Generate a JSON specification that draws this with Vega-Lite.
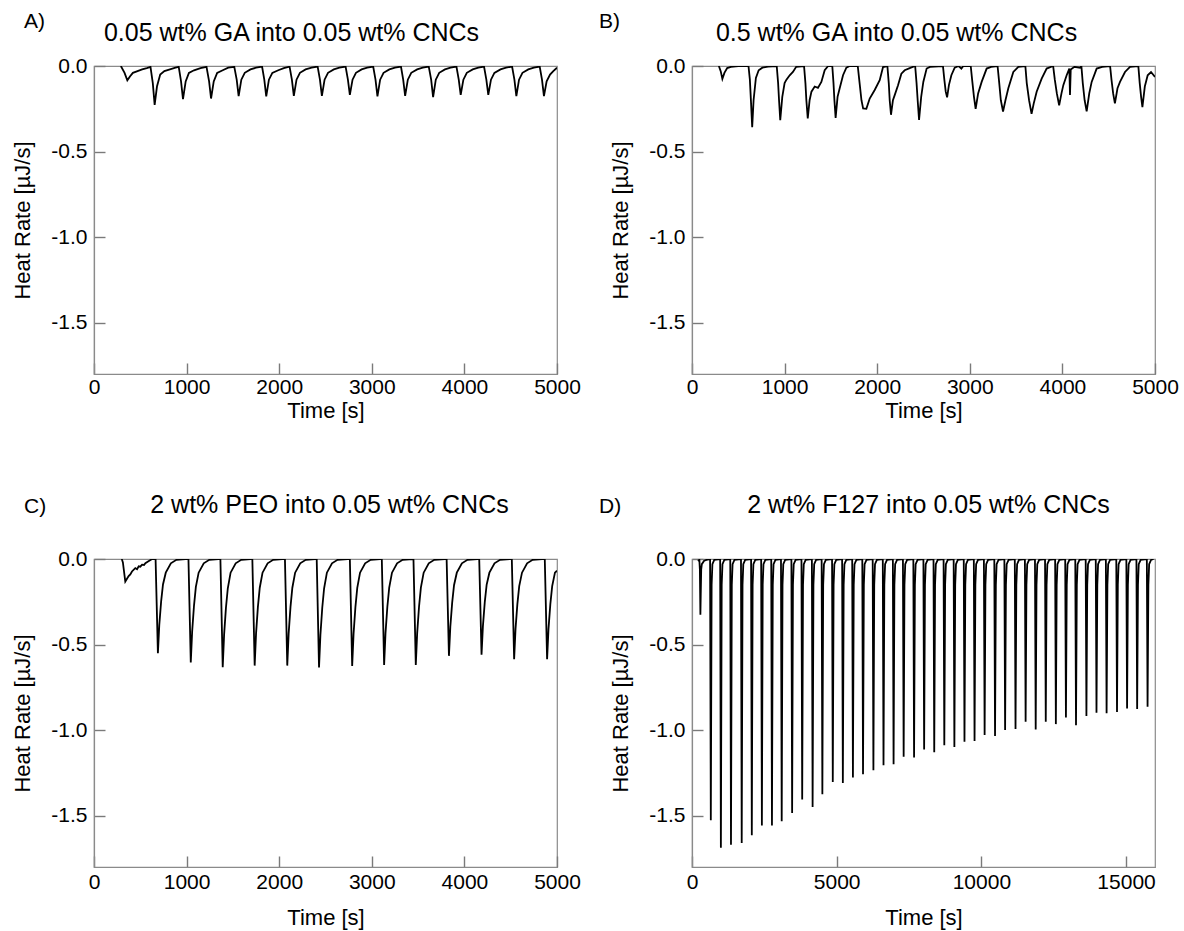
{
  "$schema": "https://vega.github.io/schema/vega-lite/v6.json",
  "background": "white",
  "padding": {"left": 11, "top": 10, "right": 5, "bottom": 5},
  "config": {
    "font": "Liberation Sans",
    "view": {"stroke": "#8a8a8a", "strokeWidth": 1.2},
    "axis": {"grid": true, "gridColor": "#7a7a7a", "gridWidth": 1.4, "gridOpacity": 1, "ticks": false, "tickSize": 0, "domainColor": "#8a8a8a", "domainWidth": 1.2, "labelFlush": false, "labelFont": "Liberation Sans", "labelFontSize": 21, "labelColor": "black", "titleFont": "Liberation Sans", "titleFontSize": 22, "titleFontWeight": "normal", "titleColor": "black"},
    "axisX": {"gridDash": [0, 297, 11, 10000]},
    "axisY": {"gridDash": [11, 10000], "labelPadding": 7, "titlePadding": 16},
    "title": {"font": "Liberation Sans", "fontSize": 21, "fontWeight": "normal", "color": "black"}
  },
  "datasets": {
    "A": [
      {"t":290,"v":0},{"t":330,"v":-0.04},{"t":360,"v":-0.084},{"t":390,"v":-0.06},{"t":420,"v":-0.04},{"t":470,"v":-0.03},{"t":520,"v":-0.02},{"t":570,"v":-0.012},{"t":610,"v":-0.005},
      {"t":635,"v":-0.1},{"t":655,"v":-0.227},{"t":680,"v":-0.12},{"t":715,"v":-0.05},{"t":760,"v":-0.03},{"t":820,"v":-0.02},{"t":880,"v":-0.01},{"t":915,"v":-0.005},
      {"t":940,"v":-0.09},{"t":961,"v":-0.194},{"t":990,"v":-0.09},{"t":1025,"v":-0.04},{"t":1080,"v":-0.025},{"t":1150,"v":-0.012},{"t":1215,"v":-0.005},
      {"t":1243,"v":-0.09},{"t":1264,"v":-0.19},{"t":1293,"v":-0.09},{"t":1330,"v":-0.04},{"t":1390,"v":-0.025},{"t":1450,"v":-0.01},{"t":1515,"v":-0.005},
      {"t":1541,"v":-0.08},{"t":1562,"v":-0.176},{"t":1591,"v":-0.08},{"t":1628,"v":-0.04},{"t":1690,"v":-0.02},{"t":1750,"v":-0.01},{"t":1815,"v":-0.003},
      {"t":1839,"v":-0.08},{"t":1860,"v":-0.178},{"t":1889,"v":-0.08},{"t":1926,"v":-0.04},{"t":1990,"v":-0.025},{"t":2050,"v":-0.012},{"t":2112,"v":-0.004},
      {"t":2137,"v":-0.08},{"t":2158,"v":-0.175},{"t":2187,"v":-0.08},{"t":2224,"v":-0.04},{"t":2285,"v":-0.02},{"t":2350,"v":-0.01},{"t":2415,"v":-0.003},
      {"t":2440,"v":-0.08},{"t":2461,"v":-0.175},{"t":2490,"v":-0.08},{"t":2527,"v":-0.04},{"t":2590,"v":-0.02},{"t":2650,"v":-0.01},{"t":2717,"v":-0.003},
      {"t":2742,"v":-0.08},{"t":2763,"v":-0.169},{"t":2792,"v":-0.08},{"t":2829,"v":-0.04},{"t":2890,"v":-0.02},{"t":2950,"v":-0.01},{"t":3015,"v":-0.003},
      {"t":3040,"v":-0.08},{"t":3061,"v":-0.178},{"t":3090,"v":-0.08},{"t":3127,"v":-0.04},{"t":3190,"v":-0.02},{"t":3250,"v":-0.01},{"t":3315,"v":-0.003},
      {"t":3339,"v":-0.08},{"t":3360,"v":-0.175},{"t":3389,"v":-0.08},{"t":3426,"v":-0.04},{"t":3490,"v":-0.02},{"t":3550,"v":-0.01},{"t":3615,"v":-0.003},
      {"t":3641,"v":-0.08},{"t":3662,"v":-0.182},{"t":3691,"v":-0.08},{"t":3728,"v":-0.04},{"t":3790,"v":-0.02},{"t":3850,"v":-0.01},{"t":3914,"v":-0.003},
      {"t":3939,"v":-0.08},{"t":3960,"v":-0.169},{"t":3989,"v":-0.08},{"t":4026,"v":-0.04},{"t":4090,"v":-0.02},{"t":4150,"v":-0.01},{"t":4212,"v":-0.003},
      {"t":4237,"v":-0.08},{"t":4258,"v":-0.169},{"t":4287,"v":-0.08},{"t":4324,"v":-0.04},{"t":4390,"v":-0.02},{"t":4450,"v":-0.01},{"t":4515,"v":-0.003},
      {"t":4540,"v":-0.08},{"t":4561,"v":-0.176},{"t":4590,"v":-0.08},{"t":4627,"v":-0.04},{"t":4690,"v":-0.02},{"t":4750,"v":-0.01},{"t":4813,"v":-0.003},
      {"t":4838,"v":-0.08},{"t":4859,"v":-0.176},{"t":4888,"v":-0.09},{"t":4925,"v":-0.05},{"t":4960,"v":-0.03},{"t":5000,"v":-0.01}
    ],
    "B": [
      {"t":290,"v":0},{"t":310,"v":-0.03},{"t":328,"v":-0.075},{"t":350,"v":-0.04},{"t":380,"v":-0.012},{"t":420,"v":-0.005},{"t":500,"v":0},{"t":610,"v":0},
      {"t":625,"v":-0.08},{"t":638,"v":-0.22},{"t":650,"v":-0.357},{"t":665,"v":-0.2},{"t":690,"v":-0.07},{"t":720,"v":-0.025},{"t":760,"v":-0.01},{"t":820,"v":-0.004},{"t":915,"v":0},
      {"t":930,"v":-0.1},{"t":940,"v":-0.2},{"t":953,"v":-0.317},{"t":975,"v":-0.18},{"t":1000,"v":-0.1},{"t":1020,"v":-0.08},{"t":1055,"v":-0.054},{"t":1090,"v":-0.035},{"t":1125,"v":-0.005},{"t":1210,"v":0},
      {"t":1225,"v":-0.1},{"t":1235,"v":-0.2},{"t":1250,"v":-0.307},{"t":1270,"v":-0.2},{"t":1290,"v":-0.15},{"t":1325,"v":-0.12},{"t":1360,"v":-0.128},{"t":1397,"v":-0.093},{"t":1433,"v":-0.025},{"t":1470,"v":0},{"t":1515,"v":0},
      {"t":1528,"v":-0.1},{"t":1538,"v":-0.2},{"t":1551,"v":-0.303},{"t":1572,"v":-0.18},{"t":1595,"v":-0.13},{"t":1631,"v":-0.054},{"t":1667,"v":-0.01},{"t":1703,"v":0},{"t":1790,"v":0},
      {"t":1810,"v":-0.1},{"t":1830,"v":-0.2},{"t":1848,"v":-0.248},{"t":1883,"v":-0.25},{"t":1919,"v":-0.19},{"t":1973,"v":-0.14},{"t":2027,"v":-0.083},{"t":2063,"v":-0.006},{"t":2110,"v":0},
      {"t":2125,"v":-0.1},{"t":2135,"v":-0.2},{"t":2149,"v":-0.285},{"t":2170,"v":-0.2},{"t":2189,"v":-0.17},{"t":2225,"v":-0.112},{"t":2261,"v":-0.045},{"t":2297,"v":-0.025},{"t":2351,"v":-0.012},{"t":2410,"v":0},
      {"t":2425,"v":-0.1},{"t":2437,"v":-0.2},{"t":2452,"v":-0.315},{"t":2475,"v":-0.18},{"t":2498,"v":-0.093},{"t":2534,"v":-0.015},{"t":2570,"v":-0.005},{"t":2710,"v":0},
      {"t":2725,"v":-0.08},{"t":2740,"v":-0.15},{"t":2755,"v":-0.183},{"t":2775,"v":-0.11},{"t":2801,"v":-0.054},{"t":2837,"v":-0.01},{"t":2880,"v":0},{"t":2909,"v":-0.015},{"t":2930,"v":0},{"t":3010,"v":0},
      {"t":3025,"v":-0.08},{"t":3045,"v":-0.18},{"t":3063,"v":-0.25},{"t":3090,"v":-0.16},{"t":3128,"v":-0.093},{"t":3182,"v":-0.015},{"t":3230,"v":-0.005},{"t":3300,"v":0},
      {"t":3318,"v":-0.1},{"t":3335,"v":-0.2},{"t":3359,"v":-0.266},{"t":3385,"v":-0.2},{"t":3416,"v":-0.13},{"t":3470,"v":-0.035},{"t":3524,"v":-0.005},{"t":3600,"v":0},
      {"t":3615,"v":-0.1},{"t":3640,"v":-0.2},{"t":3667,"v":-0.28},{"t":3690,"v":-0.22},{"t":3722,"v":-0.15},{"t":3776,"v":-0.074},{"t":3830,"v":-0.015},{"t":3900,"v":0},
      {"t":3918,"v":-0.08},{"t":3940,"v":-0.16},{"t":3965,"v":-0.23},{"t":3990,"v":-0.16},{"t":4010,"v":-0.112},{"t":4046,"v":-0.054},{"t":4075,"v":-0.015},{"t":4082,"v":-0.17},{"t":4090,"v":-0.02},{"t":4130,"v":-0.005},{"t":4190,"v":-0.01},{"t":4205,"v":0},
      {"t":4220,"v":-0.1},{"t":4240,"v":-0.2},{"t":4262,"v":-0.265},{"t":4290,"v":-0.16},{"t":4316,"v":-0.093},{"t":4370,"v":-0.015},{"t":4430,"v":-0.005},{"t":4515,"v":0},
      {"t":4530,"v":-0.08},{"t":4548,"v":-0.16},{"t":4567,"v":-0.218},{"t":4595,"v":-0.13},{"t":4622,"v":-0.093},{"t":4676,"v":-0.035},{"t":4730,"v":-0.005},{"t":4820,"v":0},
      {"t":4835,"v":-0.1},{"t":4850,"v":-0.18},{"t":4864,"v":-0.24},{"t":4890,"v":-0.12},{"t":4921,"v":-0.054},{"t":4957,"v":-0.035},{"t":5000,"v":-0.064}
    ],
    "C": [
      {"t":300,"v":0},{"t":312,"v":-0.02},{"t":338,"v":-0.132},{"t":374,"v":-0.1},{"t":392,"v":-0.09},{"t":410,"v":-0.073},{"t":446,"v":-0.053},{"t":465,"v":-0.06},{"t":483,"v":-0.043},{"t":500,"v":-0.045},{"t":519,"v":-0.033},{"t":540,"v":-0.035},{"t":555,"v":-0.024},{"t":592,"v":-0.012},{"t":628,"v":0},
      {"t":665,"v":0},{"t":690,"v":-0.551},{"t":705,"v":-0.386},{"t":725,"v":-0.248},{"t":745,"v":-0.149},{"t":775,"v":-0.08},{"t":830,"v":-0.025},{"t":890,"v":-0.005},{"t":990,"v":0},
      {"t":1020,"v":0},{"t":1045,"v":-0.605},{"t":1060,"v":-0.424},{"t":1080,"v":-0.272},{"t":1100,"v":-0.163},{"t":1130,"v":-0.08},{"t":1185,"v":-0.025},{"t":1245,"v":-0.005},{"t":1345,"v":0},
      {"t":1365,"v":0},{"t":1390,"v":-0.632},{"t":1405,"v":-0.442},{"t":1425,"v":-0.284},{"t":1445,"v":-0.171},{"t":1475,"v":-0.08},{"t":1530,"v":-0.025},{"t":1590,"v":-0.005},{"t":1690,"v":0},
      {"t":1710,"v":0},{"t":1735,"v":-0.623},{"t":1750,"v":-0.436},{"t":1770,"v":-0.28},{"t":1790,"v":-0.168},{"t":1820,"v":-0.08},{"t":1875,"v":-0.025},{"t":1935,"v":-0.005},{"t":2035,"v":0},
      {"t":2062,"v":0},{"t":2087,"v":-0.623},{"t":2102,"v":-0.436},{"t":2122,"v":-0.28},{"t":2142,"v":-0.168},{"t":2172,"v":-0.08},{"t":2227,"v":-0.025},{"t":2287,"v":-0.005},{"t":2390,"v":0},
      {"t":2405,"v":0},{"t":2430,"v":-0.634},{"t":2445,"v":-0.444},{"t":2465,"v":-0.285},{"t":2485,"v":-0.171},{"t":2515,"v":-0.08},{"t":2570,"v":-0.025},{"t":2630,"v":-0.005},{"t":2740,"v":0},
      {"t":2763,"v":0},{"t":2788,"v":-0.625},{"t":2803,"v":-0.438},{"t":2823,"v":-0.281},{"t":2843,"v":-0.169},{"t":2873,"v":-0.08},{"t":2928,"v":-0.025},{"t":2988,"v":-0.005},{"t":3090,"v":0},
      {"t":3108,"v":0},{"t":3133,"v":-0.619},{"t":3148,"v":-0.433},{"t":3168,"v":-0.279},{"t":3188,"v":-0.167},{"t":3218,"v":-0.08},{"t":3273,"v":-0.025},{"t":3333,"v":-0.005},{"t":3440,"v":0},
      {"t":3450,"v":0},{"t":3475,"v":-0.619},{"t":3490,"v":-0.433},{"t":3510,"v":-0.279},{"t":3530,"v":-0.167},{"t":3560,"v":-0.08},{"t":3615,"v":-0.025},{"t":3675,"v":-0.005},{"t":3790,"v":0},
      {"t":3808,"v":0},{"t":3833,"v":-0.566},{"t":3848,"v":-0.396},{"t":3868,"v":-0.255},{"t":3888,"v":-0.153},{"t":3918,"v":-0.08},{"t":3973,"v":-0.025},{"t":4033,"v":-0.005},{"t":4140,"v":0},
      {"t":4160,"v":0},{"t":4185,"v":-0.56},{"t":4200,"v":-0.392},{"t":4220,"v":-0.252},{"t":4240,"v":-0.151},{"t":4270,"v":-0.08},{"t":4325,"v":-0.025},{"t":4385,"v":-0.005},{"t":4490,"v":0},
      {"t":4512,"v":0},{"t":4537,"v":-0.586},{"t":4552,"v":-0.41},{"t":4572,"v":-0.264},{"t":4592,"v":-0.158},{"t":4622,"v":-0.08},{"t":4677,"v":-0.025},{"t":4737,"v":-0.005},{"t":4840,"v":0},
      {"t":4868,"v":0},{"t":4893,"v":-0.586},{"t":4908,"v":-0.41},{"t":4928,"v":-0.264},{"t":4948,"v":-0.158},{"t":4978,"v":-0.08},{"t":5000,"v":-0.068}
    ],
    "D": [
      {"t":200,"v":-0.01},{"t":255,"v":-0.005},{"t":272,"v":-0.06},{"t":290,"v":-0.326},{"t":303,"v":-0.2},{"t":318,"v":-0.06},{"t":340,"v":-0.03},{"t":420,"v":-0.01},{"t":500,"v":-0.005},
      {"t":625,"v":0},{"t":650,"v":-1.527},{"t":678,"v":-0.15},{"t":705,"v":-0.03},{"t":770,"v":-0.005},
      {"t":973,"v":0},{"t":998,"v":-1.688},{"t":1026,"v":-0.15},{"t":1053,"v":-0.03},{"t":1118,"v":-0.005},
      {"t":1322,"v":0},{"t":1347,"v":-1.67},{"t":1375,"v":-0.15},{"t":1402,"v":-0.03},{"t":1467,"v":-0.005},
      {"t":1693,"v":0},{"t":1718,"v":-1.66},{"t":1746,"v":-0.15},{"t":1773,"v":-0.03},{"t":1838,"v":-0.005},
      {"t":2042,"v":0},{"t":2067,"v":-1.615},{"t":2095,"v":-0.15},{"t":2122,"v":-0.03},{"t":2187,"v":-0.005},
      {"t":2390,"v":0},{"t":2415,"v":-1.557},{"t":2443,"v":-0.15},{"t":2470,"v":-0.03},{"t":2535,"v":-0.005},
      {"t":2738,"v":0},{"t":2763,"v":-1.557},{"t":2791,"v":-0.15},{"t":2818,"v":-0.03},{"t":2883,"v":-0.005},
      {"t":3075,"v":0},{"t":3100,"v":-1.533},{"t":3128,"v":-0.15},{"t":3155,"v":-0.03},{"t":3220,"v":-0.005},
      {"t":3435,"v":0},{"t":3460,"v":-1.484},{"t":3488,"v":-0.15},{"t":3515,"v":-0.03},{"t":3580,"v":-0.005},
      {"t":3783,"v":0},{"t":3808,"v":-1.406},{"t":3836,"v":-0.15},{"t":3863,"v":-0.03},{"t":3928,"v":-0.005},
      {"t":4143,"v":0},{"t":4168,"v":-1.449},{"t":4196,"v":-0.15},{"t":4223,"v":-0.03},{"t":4288,"v":-0.005},
      {"t":4480,"v":0},{"t":4505,"v":-1.375},{"t":4533,"v":-0.15},{"t":4560,"v":-0.03},{"t":4625,"v":-0.005},
      {"t":4840,"v":0},{"t":4865,"v":-1.303},{"t":4893,"v":-0.15},{"t":4920,"v":-0.03},{"t":4985,"v":-0.005},
      {"t":5188,"v":0},{"t":5213,"v":-1.309},{"t":5241,"v":-0.15},{"t":5268,"v":-0.03},{"t":5333,"v":-0.005},
      {"t":5536,"v":0},{"t":5561,"v":-1.277},{"t":5589,"v":-0.15},{"t":5616,"v":-0.03},{"t":5681,"v":-0.005},
      {"t":5885,"v":0},{"t":5910,"v":-1.258},{"t":5938,"v":-0.15},{"t":5965,"v":-0.03},{"t":6030,"v":-0.005},
      {"t":6244,"v":0},{"t":6269,"v":-1.234},{"t":6297,"v":-0.15},{"t":6324,"v":-0.03},{"t":6389,"v":-0.005},
      {"t":6593,"v":0},{"t":6618,"v":-1.205},{"t":6646,"v":-0.15},{"t":6673,"v":-0.03},{"t":6738,"v":-0.005},
      {"t":6941,"v":0},{"t":6966,"v":-1.199},{"t":6994,"v":-0.15},{"t":7021,"v":-0.03},{"t":7086,"v":-0.005},
      {"t":7289,"v":0},{"t":7314,"v":-1.156},{"t":7342,"v":-0.15},{"t":7369,"v":-0.03},{"t":7434,"v":-0.005},
      {"t":7649,"v":0},{"t":7674,"v":-1.16},{"t":7702,"v":-0.15},{"t":7729,"v":-0.03},{"t":7794,"v":-0.005},
      {"t":7997,"v":0},{"t":8022,"v":-1.113},{"t":8050,"v":-0.15},{"t":8077,"v":-0.03},{"t":8142,"v":-0.005},
      {"t":8346,"v":0},{"t":8371,"v":-1.129},{"t":8399,"v":-0.15},{"t":8426,"v":-0.03},{"t":8491,"v":-0.005},
      {"t":8694,"v":0},{"t":8719,"v":-1.088},{"t":8747,"v":-0.15},{"t":8774,"v":-0.03},{"t":8839,"v":-0.005},
      {"t":9042,"v":0},{"t":9067,"v":-1.098},{"t":9095,"v":-0.15},{"t":9122,"v":-0.03},{"t":9187,"v":-0.005},
      {"t":9391,"v":0},{"t":9416,"v":-1.068},{"t":9444,"v":-0.15},{"t":9471,"v":-0.03},{"t":9536,"v":-0.005},
      {"t":9739,"v":0},{"t":9764,"v":-1.063},{"t":9792,"v":-0.15},{"t":9819,"v":-0.03},{"t":9884,"v":-0.005},
      {"t":10087,"v":0},{"t":10112,"v":-1.029},{"t":10140,"v":-0.15},{"t":10167,"v":-0.03},{"t":10232,"v":-0.005},
      {"t":10447,"v":0},{"t":10472,"v":-1.035},{"t":10500,"v":-0.15},{"t":10527,"v":-0.03},{"t":10592,"v":-0.005},
      {"t":10795,"v":0},{"t":10820,"v":-1.0},{"t":10848,"v":-0.15},{"t":10875,"v":-0.03},{"t":10940,"v":-0.005},
      {"t":11155,"v":0},{"t":11180,"v":-0.994},{"t":11208,"v":-0.15},{"t":11235,"v":-0.03},{"t":11300,"v":-0.005},
      {"t":11504,"v":0},{"t":11529,"v":-0.951},{"t":11557,"v":-0.15},{"t":11584,"v":-0.03},{"t":11649,"v":-0.005},
      {"t":11852,"v":0},{"t":11877,"v":-0.996},{"t":11905,"v":-0.15},{"t":11932,"v":-0.03},{"t":11997,"v":-0.005},
      {"t":12200,"v":0},{"t":12225,"v":-0.951},{"t":12253,"v":-0.15},{"t":12280,"v":-0.03},{"t":12345,"v":-0.005},
      {"t":12549,"v":0},{"t":12574,"v":-0.965},{"t":12602,"v":-0.15},{"t":12629,"v":-0.03},{"t":12694,"v":-0.005},
      {"t":12897,"v":0},{"t":12922,"v":-0.926},{"t":12950,"v":-0.15},{"t":12977,"v":-0.03},{"t":13042,"v":-0.005},
      {"t":13245,"v":0},{"t":13270,"v":-0.971},{"t":13298,"v":-0.15},{"t":13325,"v":-0.03},{"t":13390,"v":-0.005},
      {"t":13605,"v":0},{"t":13630,"v":-0.918},{"t":13658,"v":-0.15},{"t":13685,"v":-0.03},{"t":13750,"v":-0.005},
      {"t":13953,"v":0},{"t":13978,"v":-0.898},{"t":14006,"v":-0.15},{"t":14033,"v":-0.03},{"t":14098,"v":-0.005},
      {"t":14302,"v":0},{"t":14327,"v":-0.902},{"t":14355,"v":-0.15},{"t":14382,"v":-0.03},{"t":14447,"v":-0.005},
      {"t":14662,"v":0},{"t":14687,"v":-0.894},{"t":14715,"v":-0.15},{"t":14742,"v":-0.03},{"t":14807,"v":-0.005},
      {"t":15010,"v":0},{"t":15035,"v":-0.873},{"t":15063,"v":-0.15},{"t":15090,"v":-0.03},{"t":15155,"v":-0.005},
      {"t":15358,"v":0},{"t":15383,"v":-0.877},{"t":15411,"v":-0.15},{"t":15438,"v":-0.03},{"t":15503,"v":-0.005},
      {"t":15718,"v":0},{"t":15743,"v":-0.863},{"t":15771,"v":-0.15},{"t":15798,"v":-0.03},{"t":15863,"v":-0.005},{"t":15950,"v":0}
    ]
  },
  "columns": 2,
  "spacing": {"column": 135, "row": 185},
  "bounds": "flush",
  "concat": [
    {
      "width": 463, "height": 308,
      "title": {"text": "A)", "anchor": "start", "frame": "group", "dx": -70, "offset": -12},
      "data": {"name": "A"},
      "resolve": {"axis": {"x": "independent"}},
      "layer": [
        {"mark": {"type": "line", "color": "black", "strokeWidth": 1.8, "clip": true},
         "encoding": {
           "x": {"field": "t", "type": "quantitative", "scale": {"domain": [0, 5000], "nice": false}, "axis": {"orient": "bottom", "title": "Time [s]", "values": [0,1000,2000,3000,4000,5000], "format": "d", "labelPadding": 2, "titlePadding": 3}},
           "y": {"field": "v", "type": "quantitative", "scale": {"domain": [-1.8, 0], "nice": false}, "axis": {"title": "Heat Rate [µJ/s]", "values": [0,-0.5,-1,-1.5], "labelExpr": "datum.value < 0 ? '-' + format(-datum.value, '.1f') : format(datum.value, '.1f')"}}
         }},
        {"mark": {"type": "line", "strokeOpacity": 0},
         "encoding": {
           "x": {"field": "t", "type": "quantitative", "axis": {"orient": "top", "title": "0.05 wt% GA into 0.05 wt% CNCs", "labels": false, "ticks": false, "domain": false, "grid": false, "titleFontSize": 25, "titleX": 197, "titleY": -34, "titleBaseline": "middle", "titleAlign": "center"}},
           "y": {"field": "v", "type": "quantitative"}
         }}
      ]
    },
    {
      "width": 463, "height": 308,
      "title": {"text": "B)", "anchor": "start", "frame": "group", "dx": -93, "offset": -12},
      "data": {"name": "B"},
      "resolve": {"axis": {"x": "independent"}},
      "layer": [
        {"mark": {"type": "line", "color": "black", "strokeWidth": 1.8, "clip": true},
         "encoding": {
           "x": {"field": "t", "type": "quantitative", "scale": {"domain": [0, 5000], "nice": false}, "axis": {"orient": "bottom", "title": "Time [s]", "values": [0,1000,2000,3000,4000,5000], "format": "d", "labelPadding": 2, "titlePadding": 3}},
           "y": {"field": "v", "type": "quantitative", "scale": {"domain": [-1.8, 0], "nice": false}, "axis": {"title": "Heat Rate [µJ/s]", "values": [0,-0.5,-1,-1.5], "labelExpr": "datum.value < 0 ? '-' + format(-datum.value, '.1f') : format(datum.value, '.1f')"}}
         }},
        {"mark": {"type": "line", "strokeOpacity": 0},
         "encoding": {
           "x": {"field": "t", "type": "quantitative", "axis": {"orient": "top", "title": "0.5 wt% GA into 0.05 wt% CNCs", "labels": false, "ticks": false, "domain": false, "grid": false, "titleFontSize": 25, "titleX": 204, "titleY": -34, "titleBaseline": "middle", "titleAlign": "center"}},
           "y": {"field": "v", "type": "quantitative"}
         }}
      ]
    },
    {
      "width": 463, "height": 308,
      "title": {"text": "C)", "anchor": "start", "frame": "group", "dx": -70, "offset": -25},
      "data": {"name": "C"},
      "resolve": {"axis": {"x": "independent"}},
      "layer": [
        {"mark": {"type": "line", "color": "black", "strokeWidth": 1.8, "clip": true},
         "encoding": {
           "x": {"field": "t", "type": "quantitative", "scale": {"domain": [0, 5000], "nice": false}, "axis": {"orient": "bottom", "title": "Time [s]", "values": [0,1000,2000,3000,4000,5000], "format": "d", "labelPadding": 4, "titlePadding": 15}},
           "y": {"field": "v", "type": "quantitative", "scale": {"domain": [-1.8, 0], "nice": false}, "axis": {"title": "Heat Rate [µJ/s]", "values": [0,-0.5,-1,-1.5], "labelExpr": "datum.value < 0 ? '-' + format(-datum.value, '.1f') : format(datum.value, '.1f')"}}
         }},
        {"mark": {"type": "line", "strokeOpacity": 0},
         "encoding": {
           "x": {"field": "t", "type": "quantitative", "axis": {"orient": "top", "title": "2 wt% PEO into 0.05 wt% CNCs", "labels": false, "ticks": false, "domain": false, "grid": false, "titleFontSize": 25, "titleX": 235, "titleY": -55, "titleBaseline": "middle", "titleAlign": "center"}},
           "y": {"field": "v", "type": "quantitative"}
         }}
      ]
    },
    {
      "width": 463, "height": 308,
      "title": {"text": "D)", "anchor": "start", "frame": "group", "dx": -93, "offset": -25},
      "data": {"name": "D"},
      "resolve": {"axis": {"x": "independent"}},
      "layer": [
        {"mark": {"type": "line", "color": "black", "strokeWidth": 1.8, "clip": true},
         "encoding": {
           "x": {"field": "t", "type": "quantitative", "scale": {"domain": [0, 16000], "nice": false}, "axis": {"orient": "bottom", "title": "Time [s]", "values": [0,5000,10000,15000], "format": "d", "labelPadding": 4, "titlePadding": 15}},
           "y": {"field": "v", "type": "quantitative", "scale": {"domain": [-1.8, 0], "nice": false}, "axis": {"title": "Heat Rate [µJ/s]", "values": [0,-0.5,-1,-1.5], "labelExpr": "datum.value < 0 ? '-' + format(-datum.value, '.1f') : format(datum.value, '.1f')"}}
         }},
        {"mark": {"type": "line", "strokeOpacity": 0},
         "encoding": {
           "x": {"field": "t", "type": "quantitative", "axis": {"orient": "top", "title": "2 wt% F127 into 0.05 wt% CNCs", "labels": false, "ticks": false, "domain": false, "grid": false, "titleFontSize": 25, "titleX": 236, "titleY": -55, "titleBaseline": "middle", "titleAlign": "center"}},
           "y": {"field": "v", "type": "quantitative"}
         }}
      ]
    }
  ]
}
